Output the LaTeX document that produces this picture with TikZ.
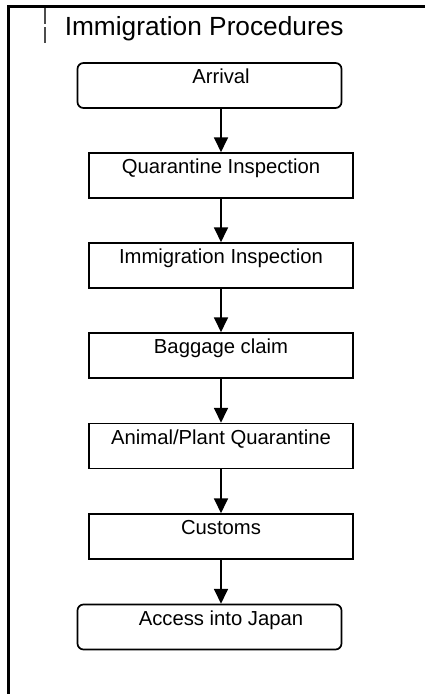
\documentclass[tikz,border=0pt]{standalone}
\usepackage{fontspec}
\setmainfont{Liberation Sans}
\usetikzlibrary{arrows.meta}

\tikzset{
  stepbox/.style={draw,line width=1.3pt,minimum width=198pt,minimum height=33.75pt,
    inner sep=0pt,text height=15.6pt,text depth=18.15pt,font=\fontsize{15.2}{18}\selectfont},
  endbox/.style={stepbox,rounded corners=4.5pt},
  flow/.style={line width=1.1pt,-{Triangle[width=10.5pt,length=11pt]}}
}

\begin{document}
\begin{tikzpicture}[x=0.75pt,y=-0.75pt]
\useasboundingbox (0,0) rectangle (425,694);
% frame
\draw[line width=1.6pt] (8.5,694) -- (8.5,6.5) -- (425,6.5);
\draw[gray!60!black,line width=1pt] (45,7.5) -- (45,24) (45,27) -- (45,43);
\node[anchor=base west,inner sep=0pt,font=\fontsize{19.7}{22}\selectfont] (title) at (64.5,35) {Immigration Procedures};
% steps
\node[endbox] (arrival) at (209.5,85.5) {\hspace*{17.25pt}Arrival};
\node[stepbox] (quar) at (221,175.5) {Quarantine Inspection};
\node[stepbox] (immig) at (221,265.5) {Immigration Inspection};
\node[stepbox] (baggage) at (221,355.5) {Baggage claim};
\node[stepbox] (animal) at (221,446) {Animal/Plant Quarantine};
\node[stepbox] (customs) at (221,536.5) {Customs};
\node[endbox] (access) at (209.5,627) {\hspace*{17.25pt}Access into Japan};
% arrows
\draw[flow] (arrival.south -| quar.north) -- (quar.north);
\draw[flow] (quar) -- (immig);
\draw[flow] (immig) -- (baggage);
\draw[flow] (baggage) -- (animal);
\draw[flow] (animal) -- (customs);
\draw[flow] (customs.south) -- (customs.south |- access.north);
\end{tikzpicture}
\end{document}
